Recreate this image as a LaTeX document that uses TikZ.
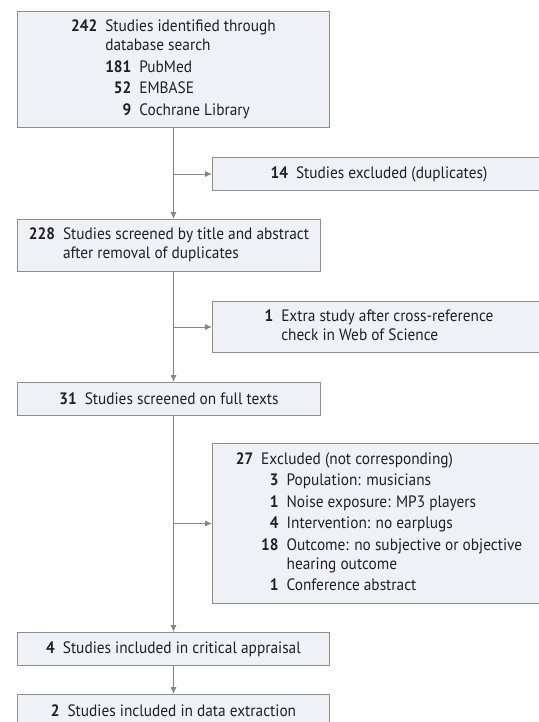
\documentclass[tikz,border=0pt]{standalone}
\usepackage{fontspec}
\setmainfont[FakeStretch=0.93]{PT Sans}
\usepackage{xcolor}
\usetikzlibrary{arrows.meta, positioning}

\definecolor{boxfill}{HTML}{EEF1F5}
\definecolor{boxline}{HTML}{8E8E8E}
\definecolor{flowline}{HTML}{858585}
\definecolor{txt}{HTML}{231F20}

\newcommand{\num}[1]{\textbf{#1}}

\tikzset{
  stagebox/.style={draw=boxline, fill=boxfill, line width=1pt, anchor=north west,
    inner sep=0pt, text=txt, font=\fontsize{16.5}{19}\selectfont},
  flow/.style={draw=flowline, line width=0.9pt, -{Latex[length=7pt,width=6pt]}}
}

\begin{document}
\begin{tikzpicture}[x=1pt, y=-1pt]
\useasboundingbox (0,0) rectangle (538,722);

\node[stagebox, minimum width=312pt, minimum height=116pt] (ident) at (17,11)
  {\begin{tabular}{@{}r@{\hspace{8pt}}r@{\hspace{8pt}}l@{}}
   \num{242} & \multicolumn{2}{@{}l@{}}{Studies identified through}\\
   & \multicolumn{2}{@{}l@{}}{database search}\\[2.5pt]
   & \num{181} & PubMed\\[2.5pt]
   & \num{52} & EMBASE\\[2.5pt]
   & \num{9} & Cochrane Library
   \end{tabular}};
\node[stagebox, minimum width=333pt, minimum height=33pt] (dupl) at (212,157)
  {\num{14}\hspace{8pt}Studies excluded (duplicates)};
\node[stagebox, minimum width=303pt, minimum height=52pt] (screen) at (17,219)
  {\begin{tabular}{@{}r@{\hspace{8pt}}l@{}}
   \num{228} & Studies screened by title and abstract\\
   & after removal of duplicates
   \end{tabular}};
\node[stagebox, minimum width=333pt, minimum height=51pt] (extra) at (212,301)
  {\begin{tabular}{@{}r@{\hspace{8pt}}l@{}}
   \num{1} & Extra study after cross-reference\\
   & check in Web of Science
   \end{tabular}};
\node[stagebox, minimum width=303pt, minimum height=33pt] (fulltext) at (17,382)
  {\num{31}\hspace{8pt}Studies screened on full texts};
\node[stagebox, minimum width=333pt, minimum height=160pt] (excl) at (212,443)
  {\begin{tabular}{@{}r@{\hspace{8pt}}r@{\hspace{8pt}}l@{}}
   \num{27} & \multicolumn{2}{@{}l@{}}{Excluded (not corresponding)}\\[2.5pt]
   & \num{3} & Population: musicians\\[2.5pt]
   & \num{1} & Noise exposure: MP3 players\\[2.5pt]
   & \num{4} & Intervention: no earplugs\\[2.5pt]
   & \num{18} & Outcome: no subjective or objective\\
   & & hearing outcome\\[2.5pt]
   & \num{1} & Conference abstract
   \end{tabular}};
\node[stagebox, minimum width=312pt, minimum height=33pt] (apprais) at (17,632)
  {\num{4}\hspace{8pt}Studies included in critical appraisal};
\node[stagebox, minimum width=312pt, minimum height=33pt] (extract) at (17,694)
  {\num{2}\hspace{8pt}Studies included in data extraction};

\draw[flow] (ident.south) -- (ident.south |- screen.north);
\draw[flow] (ident.south |- dupl.west) -- (dupl.west);
\draw[flow] (ident.south |- screen.south) -- (ident.south |- fulltext.north);
\draw[flow] (ident.south |- extra.west) -- (extra.west);
\draw[flow] (ident.south |- fulltext.south) -- (apprais.north);
\draw[flow] (ident.south |- excl.west) -- (excl.west);
\draw[flow] (apprais) -- (extract);
\end{tikzpicture}
\end{document}
